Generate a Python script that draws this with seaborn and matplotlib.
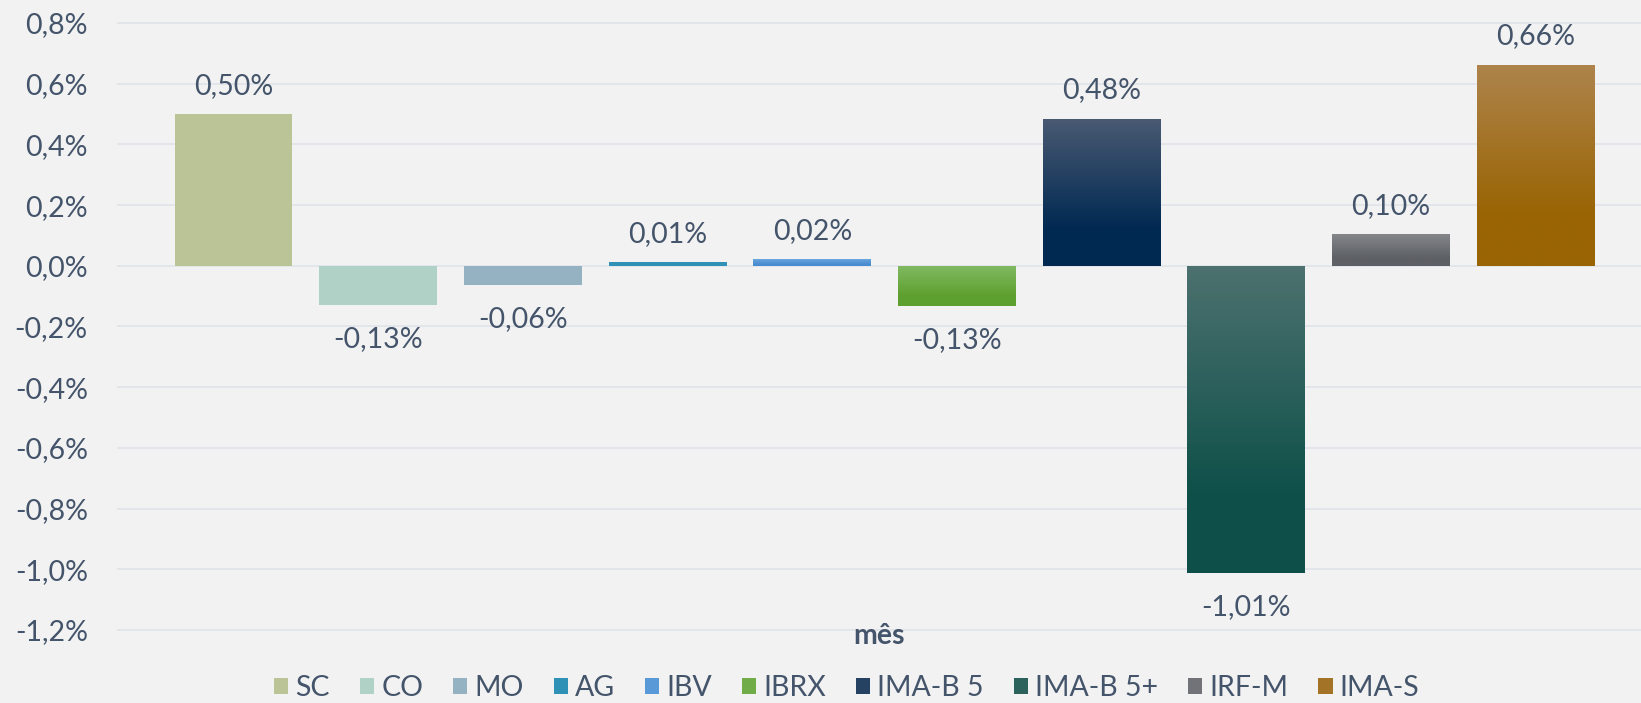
import numpy as np
import pandas as pd
import matplotlib
matplotlib.use("Agg")
import matplotlib.pyplot as plt
import seaborn as sns
from matplotlib.colors import to_rgb
from matplotlib.patches import Patch

categories = ["SC", "CO", "MO", "AG", "IBV", "IBRX", "IMA-B 5", "IMA-B 5+", "IRF-M", "IMA-S"]
values = [0.50, -0.13, -0.064, 0.012, 0.021, -0.133, 0.485, -1.011, 0.104, 0.663]
top_colors = ["#BAC497", "#B0D1C6", "#94B2C2", "#2E91B5", "#6AA6DE", "#82BA62",
              "#4A5A72", "#4C716F", "#84868A", "#AE844C"]
bottom_colors = ["#BAC497", "#B0D1C6", "#94B2C2", "#2E91B5", "#4A8CD0", "#5EA02F",
                 "#002952", "#0E5049", "#5D6065", "#996403"]
y_ticks = [0.8, 0.6, 0.4, 0.2, 0.0, -0.2, -0.4, -0.6, -0.8, -1.0, -1.2]

TEXT = "#44546A"
BG = "#F2F2F2"
GRID = "#E1E5EA"
FS = 20.5

sns.set_theme(style="white")
plt.rcParams["font.family"] = ["Lato", "DejaVu Sans"]

W, H = 1641, 703
fig = plt.figure(figsize=(W / 100, H / 100), dpi=100, facecolor=BG)
ax_left, ax_right, ax_top, ax_bot = 117, 1641, 10, 632
ax = fig.add_axes([ax_left / W, 1 - ax_bot / H, (ax_right - ax_left) / W, (ax_bot - ax_top) / H])
ax.set_facecolor(BG)

df = pd.DataFrame({"cat": categories, "val": values})
sns.barplot(data=df, x="cat", y="val", hue="cat", palette=dict(zip(categories, bottom_colors)),
            width=0.815, dodge=False, legend=False, ax=ax, saturation=1, zorder=3,
            linewidth=0, edgecolor="none")

# gradients
for patch, tc, bc in zip(ax.patches, top_colors, bottom_colors):
    if tc == bc:
        continue
    x0 = patch.get_x(); x1 = x0 + patch.get_width()
    y0 = patch.get_y(); y1 = y0 + patch.get_height()
    ymin, ymax = min(y0, y1), max(y0, y1)
    n = 100
    t = np.linspace(0, 1, n)
    t = np.clip(t / 0.75, 0, 1)
    c0, c1 = np.array(to_rgb(tc)), np.array(to_rgb(bc))
    grad = c0[None, :] * (1 - t[:, None]) + c1[None, :] * t[:, None]
    img = np.repeat(grad[:, None, :], 2, axis=1)
    im = ax.imshow(img, extent=(x0, x1, ymin, ymax), origin="upper", aspect="auto", zorder=4)
    im.set_clip_path(patch)

# data labels
for patch, v in zip(ax.patches, values):
    txt = f"{v:.2f}%".replace(".", ",")
    xc = patch.get_x() + patch.get_width() / 2
    off = 20.5 if v >= 0 else -24.5
    ax.annotate(txt, (xc, v), xytext=(0, off), textcoords="offset points",
                ha="center", va="center", color=TEXT, fontsize=FS, zorder=5)

per_px = 2.0 / 607
ax.set_ylim(-1.2 - 2 * per_px, 0.8 + 13 * per_px)
ax.set_xlim(-0.805, 9.727)
ax.set_yticks(y_ticks)
ax.set_yticklabels([f"{t:.1f}%".replace(".", ",") for t in y_ticks])
ax.tick_params(axis="y", length=0, pad=21, labelsize=FS, labelcolor=TEXT)
ax.set_xticks([])
ax.set_xlabel("")
ax.set_ylabel("")
ax.grid(axis="y", color=GRID, linewidth=1.3, zorder=0)
ax.set_axisbelow(True)
for s in ax.spines.values():
    s.set_visible(False)

fig.text(879 / W, 1 - 636 / H, "mês", ha="center", va="center", fontsize=FS,
         fontweight="bold", color=TEXT)

handles = [Patch(facecolor=(np.array(to_rgb(t)) + np.array(to_rgb(b))) / 2, edgecolor="none", label=c)
           for c, t, b in zip(categories, top_colors, bottom_colors)]
leg = fig.legend(handles=handles, loc="center", bbox_to_anchor=(0.516, 1 - 688 / H), ncol=10,
                 frameon=False, fontsize=FS, handlelength=0.5, handleheight=0.5,
                 handletextpad=0.25, columnspacing=1.05, labelcolor=TEXT)

fig.savefig("out.png", dpi=100, facecolor=BG)
